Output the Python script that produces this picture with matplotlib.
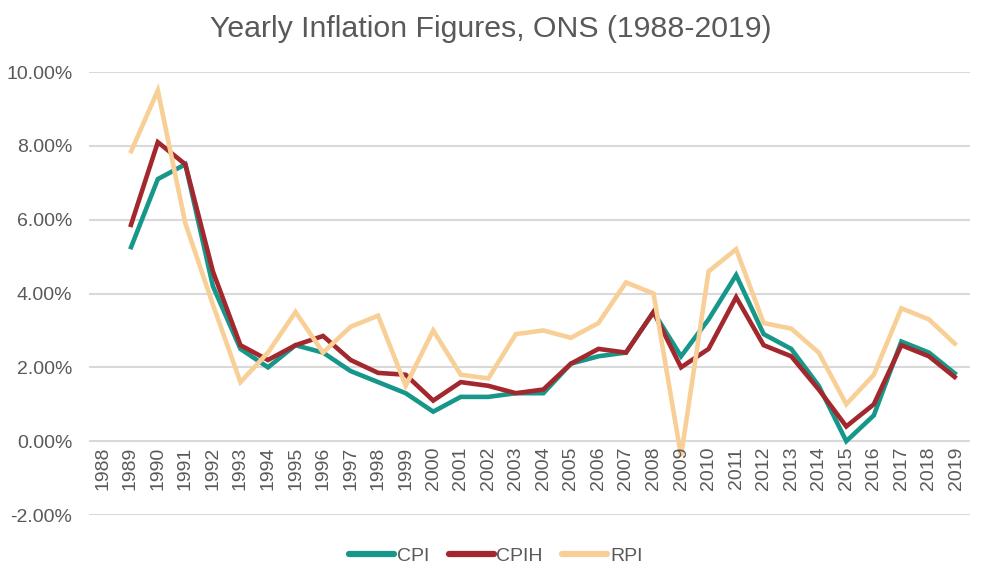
import matplotlib
matplotlib.use("Agg")
import matplotlib.pyplot as plt
import numpy as np
from matplotlib.ticker import FuncFormatter

# Data (annual %; 1988 has no values)
years = list(range(1988, 2020))

cpi = [np.nan, 5.2, 7.1, 7.5, 4.2, 2.5, 2.0, 2.6, 2.4, 1.9, 1.6, 1.3, 0.8,
       1.2, 1.2, 1.3, 1.3, 2.1, 2.3, 2.4, 3.5, 2.3, 3.3, 4.5, 2.9, 2.5,
       1.5, 0.0, 0.7, 2.7, 2.4, 1.8]

cpih = [np.nan, 5.8, 8.1, 7.5, 4.6, 2.6, 2.2, 2.6, 2.85, 2.2, 1.85, 1.8, 1.1,
        1.6, 1.5, 1.3, 1.4, 2.1, 2.5, 2.4, 3.5, 2.0, 2.5, 3.9, 2.6, 2.3,
        1.4, 0.4, 1.0, 2.6, 2.3, 1.7]

rpi = [np.nan, 7.8, 9.5, 5.9, 3.7, 1.6, 2.4, 3.5, 2.4, 3.1, 3.4, 1.5, 3.0,
       1.8, 1.7, 2.9, 3.0, 2.8, 3.2, 4.3, 4.0, -0.4, 4.6, 5.2, 3.2, 3.05,
       2.4, 1.0, 1.8, 3.6, 3.3, 2.6]

series_names = ["CPI", "CPIH", "RPI"]
colors = ["#17978a", "#a3282d", "#f8cf96"]

plt.rcParams["font.family"] = ["Liberation Sans", "DejaVu Sans"]

fig = plt.figure(figsize=(9.82, 5.79), dpi=100)
ax = fig.add_axes([0.0906, 0.1105, 0.8974, 0.7651])

x = np.arange(len(years))
for vals, name, col in zip([cpi, cpih, rpi], series_names, colors):
    ax.plot(x, vals, color=col, linewidth=3.3, label=name,
            solid_joinstyle="miter", solid_capstyle="butt")

ax.set_xlim(-0.5, len(years) - 0.5)
ax.set_ylim(-2, 10)
ax.set_yticks(np.arange(-2, 10.1, 2))
ax.yaxis.set_major_formatter(FuncFormatter(lambda v, p: "%.2f%%" % v))
ax.set_xticks([])

ax.grid(axis="y", color="#d9d9d9", linewidth=1.5)
ax.set_axisbelow(True)
for s in ax.spines.values():
    s.set_visible(False)
ax.tick_params(axis="y", length=0, colors="#595959", labelsize=14, pad=12)

# year labels sit just under the 0.00% line, not at the bottom of the axes
for xi, yr in zip(x, years):
    ax.text(xi, -0.15, str(yr), rotation=90, ha="center", va="top",
            fontsize=14, color="#595959")

fig.text(0.5, 0.936, "Yearly Inflation Figures, ONS (1988-2019)",
         ha="center", va="baseline", fontsize=21.8, color="#595959")

leg = fig.legend(loc="center", bbox_to_anchor=(0.505, 0.04), ncol=3,
                 frameon=False, fontsize=14, handlelength=2.3,
                 handletextpad=0.15, columnspacing=1.0)
for t in leg.get_texts():
    t.set_color("#595959")
for h in leg.legend_handles:
    h.set_linewidth(4.5)
    h.set_solid_capstyle("round")

fig.savefig("out.png", dpi=100)
